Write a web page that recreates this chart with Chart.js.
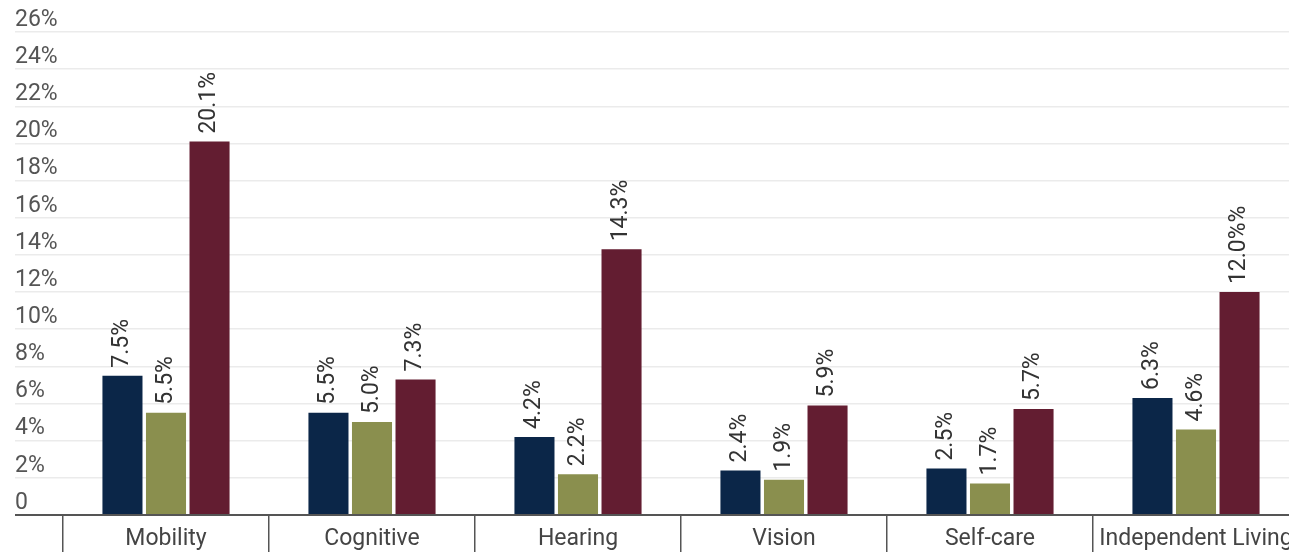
<!DOCTYPE html>
<html>
<head>
<meta charset="utf-8">
<script src="https://cdn.jsdelivr.net/npm/chart.js@4/dist/chart.umd.min.js"></script>
<style>
  html, body { margin: 0; padding: 0; background: #fff; overflow: hidden; }
</style>
</head>
<body>
<canvas id="myChart" width="1310" height="552"></canvas>
<script>
  // data
  const categories = ['Mobility', 'Cognitive', 'Hearing', 'Vision', 'Self-care', 'Independent Living']
  const seriesA = [7.5, 5.5, 4.2, 2.4, 2.5, 6.3]
  const seriesB = [5.5, 5.0, 2.2, 1.9, 1.7, 4.6]
  const seriesC = [20.1, 7.3, 14.3, 5.9, 5.7, 12.0]
  const labelsA = ['7.5%', '5.5%', '4.2%', '2.4%', '2.5%', '6.3%']
  const labelsB = ['5.5%', '5.0%', '2.2%', '1.9%', '1.7%', '4.6%']
  const labelsC = ['20.1%', '7.3%', '14.3%', '5.9%', '5.7%', '12.0%%']
  const yTicks = [0, 2, 4, 6, 8, 10, 12, 14, 16, 18, 20, 22, 24, 26]

  const font = "Roboto, 'Noto Sans', sans-serif"

  // rotated value labels above each bar
  const barLabels = {
    id: 'barLabels',
    afterDatasetsDraw(chart) {
      const ctx = chart.ctx
      ctx.save()
      ctx.font = '23px ' + font
      ctx.fillStyle = '#333'
      ctx.textAlign = 'left'
      ctx.textBaseline = 'middle'
      chart.data.datasets.forEach((ds, i) => {
        chart.getDatasetMeta(i).data.forEach((bar, j) => {
          ctx.save()
          ctx.translate(bar.x, bar.y - 8)
          ctx.rotate(-Math.PI / 2)
          ctx.fillText(ds.valueLabels[j], 0, 0)
          ctx.restore()
        })
      })
      ctx.restore()
    }
  }

  let myChart = new Chart(document.getElementById('myChart'), {
    type: 'bar',
    data: {
      labels: categories,
      datasets: [
        { label: 'A', data: seriesA, valueLabels: labelsA, backgroundColor: '#0b2648' },
        { label: 'B', data: seriesB, valueLabels: labelsB, backgroundColor: '#8a8f4e' },
        { label: 'C', data: seriesC, valueLabels: labelsC, backgroundColor: '#631d31' }
      ]
    },
    plugins: [barLabels],
    options: {
      responsive: false,
      animation: false,
      devicePixelRatio: 1,
      layout: { padding: { left: 15, right: 11, top: 32, bottom: 0 } },
      datasets: {
        bar: {
          categoryPercentage: 0.634,
          barPercentage: 0.92,
          borderWidth: 0
        }
      },
      plugins: {
        legend: { display: false },
        tooltip: { enabled: false }
      },
      scales: {
        x: {
          grid: {
            offset: true,
            drawOnChartArea: false,
            drawTicks: true,
            tickLength: 37,
            color: '#555',
            lineWidth: 1.5
          },
          border: { display: true, color: '#555', width: 2 },
          ticks: {
            color: '#444',
            font: { family: font, size: 23 },
            padding: -27,
            maxRotation: 0,
            autoSkip: false
          },
          afterFit(scale) { scale.height = 37 }
        },
        y: {
          min: 0,
          max: 26,
          afterBuildTicks(scale) { scale.ticks = yTicks.map(v => ({ value: v })) },
          grid: {
            drawTicks: true,
            tickLength: 48,
            color: ctx => ctx.tick && ctx.tick.value === 0 ? '#555' : '#ebebeb',
            lineWidth: ctx => ctx.tick && ctx.tick.value === 0 ? 2 : 1.5
          },
          border: { display: false },
          ticks: {
            color: '#555',
            font: { family: font, size: 23 },
            crossAlign: 'far',
            labelOffset: -12,
            padding: 0,
            callback: v => v === 0 ? '0' : v + '%'
          },
          afterFit(scale) { scale.width = 48 }
        }
      }
    }
  })
</script>
</body>
</html>
